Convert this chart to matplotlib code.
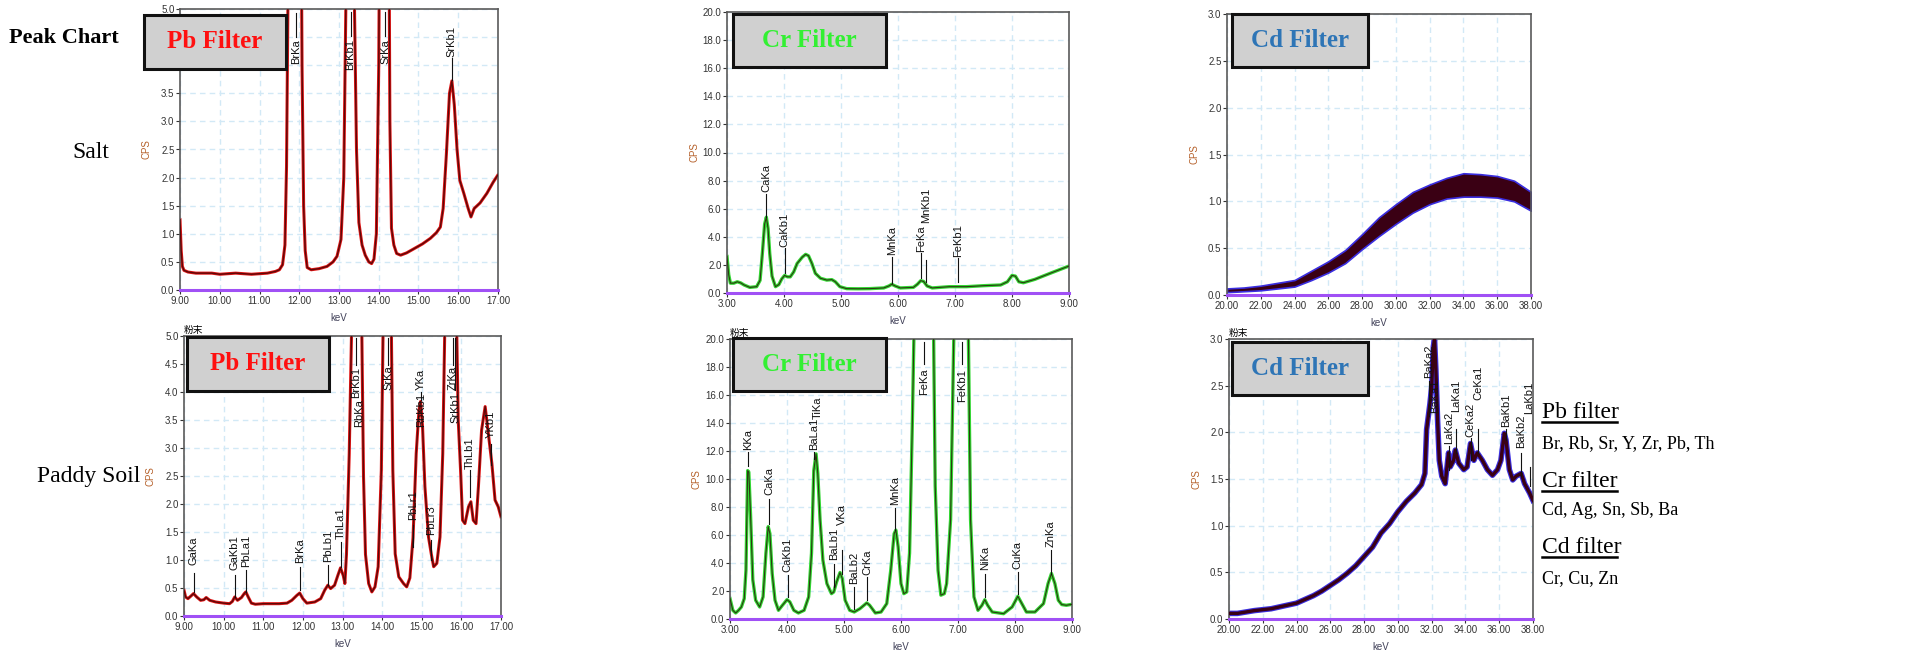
import matplotlib.pyplot as plt
from matplotlib.patches import Rectangle
from matplotlib.lines import Line2D

W, H = 1930, 651

# ---- spectra (keV, CPS) ----
# Salt, Pb filter
pb_salt_kev = [9.00, 9.03, 9.06, 9.10, 9.20, 9.40, 9.60, 9.80, 10.00, 10.20, 10.40, 10.60, 10.80,
               11.00, 11.20, 11.40, 11.50, 11.58, 11.64, 11.68, 11.72, 11.80, 11.92, 12.02, 12.07,
               12.11, 12.15, 12.20, 12.30, 12.50, 12.70, 12.85, 12.95, 13.05, 13.12, 13.18, 13.29,
               13.38, 13.44, 13.50, 13.58, 13.66, 13.75, 13.82, 13.88, 13.94, 14.00, 14.14, 14.26,
               14.28, 14.32, 14.38, 14.45, 14.55, 14.70, 14.90, 15.10, 15.30, 15.45, 15.55, 15.62,
               15.70, 15.78, 15.84, 15.90, 15.97, 16.04, 16.14, 16.25, 16.32, 16.40, 16.55, 16.72,
               16.88, 17.00]
pb_salt_cps = [1.25, 0.70, 0.42, 0.35, 0.32, 0.30, 0.30, 0.30, 0.28, 0.29, 0.30, 0.29, 0.28,
               0.29, 0.30, 0.33, 0.36, 0.45, 0.80, 2.2, 5.5, 14.0, 22.0, 10.0, 4.0,
               1.5, 0.70, 0.40, 0.36, 0.38, 0.42, 0.50, 0.60, 0.90, 2.0, 5.5, 12.0,
               5.5, 2.5, 1.2, 0.80, 0.62, 0.50, 0.47, 0.55, 1.0, 4.0, 20.0, 6.0,
               3.0, 1.1, 0.80, 0.65, 0.62, 0.66, 0.74, 0.82, 0.92, 1.02, 1.12, 1.45,
               2.4, 3.5, 3.72, 3.30, 2.50, 1.95, 1.72, 1.45, 1.30, 1.45, 1.55, 1.72,
               1.92, 2.05]

# Salt, Cr filter
cr_salt_kev = [3.00, 3.03, 3.06, 3.12, 3.18, 3.24, 3.30, 3.40, 3.52, 3.58, 3.62, 3.66, 3.69,
               3.72, 3.75, 3.79, 3.85, 3.91, 3.96, 4.01, 4.06, 4.11, 4.17, 4.23, 4.32, 4.38,
               4.43, 4.49, 4.55, 4.64, 4.75, 4.84, 4.90, 4.98, 5.10, 5.30, 5.50, 5.75, 5.84,
               5.89, 5.95, 6.04, 6.27, 6.34, 6.40, 6.45, 6.51, 6.60, 6.90, 7.20, 7.50, 7.80,
               7.92, 8.00, 8.06, 8.12, 8.20, 8.40, 8.70, 9.00]
cr_salt_cps = [2.6, 1.3, 0.70, 0.70, 0.80, 0.72, 0.57, 0.40, 0.45, 0.90, 2.8, 4.9, 5.4,
               4.6, 2.8, 1.2, 0.45, 0.60, 1.0, 1.25, 1.15, 1.15, 1.50, 2.1, 2.55, 2.75,
               2.65, 2.1, 1.40, 1.05, 0.92, 0.95, 0.80, 0.45, 0.31, 0.30, 0.31, 0.36, 0.50,
               0.62, 0.50, 0.36, 0.40, 0.62, 0.88, 0.82, 0.50, 0.36, 0.45, 0.45, 0.52, 0.57,
               0.80, 1.25, 1.20, 0.80, 0.73, 0.97, 1.45, 1.92]

# Salt, Cd filter: noisy band, lower and upper edge
cd_salt_kev = [20.0, 21.0, 22.0, 23.0, 24.0, 25.0, 26.0, 27.0, 28.0, 29.0, 30.0, 31.0, 32.0,
               33.0, 34.0, 35.0, 36.0, 37.0, 38.0]
cd_salt_low = [0.03, 0.04, 0.05, 0.07, 0.09, 0.16, 0.24, 0.34, 0.49, 0.63, 0.76, 0.88, 0.97,
               1.03, 1.05, 1.05, 1.04, 1.00, 0.90]
cd_salt_high = [0.07, 0.08, 0.10, 0.13, 0.16, 0.26, 0.36, 0.48, 0.65, 0.83, 0.97, 1.10, 1.18,
                1.25, 1.30, 1.29, 1.27, 1.22, 1.10]

# Paddy soil, Pb filter
pb_soil_kev = [9.00, 9.04, 9.10, 9.18, 9.24, 9.32, 9.42, 9.50, 9.56, 9.65, 9.80, 10.00, 10.15,
               10.22, 10.28, 10.35, 10.45, 10.52, 10.56, 10.62, 10.70, 10.80, 11.00, 11.20,
               11.40, 11.60, 11.72, 11.85, 11.92, 12.00, 12.10, 12.30, 12.45, 12.55, 12.63,
               12.70, 12.80, 12.88, 12.95, 13.02, 13.06, 13.10, 13.17, 13.24, 13.38, 13.48,
               13.53, 13.58, 13.66, 13.74, 13.82, 13.90, 13.98, 14.04, 14.15, 14.22, 14.27,
               14.33, 14.42, 14.54, 14.62, 14.70, 14.78, 14.86, 14.93, 14.97, 15.02, 15.08,
               15.17, 15.24, 15.30, 15.38, 15.46, 15.53, 15.59, 15.77, 15.88, 15.92, 15.98,
               16.03, 16.09, 16.18, 16.24, 16.30, 16.37, 16.43, 16.51, 16.60, 16.64, 16.68,
               16.77, 16.85, 16.93, 17.00]
pb_soil_cps = [0.46, 0.34, 0.31, 0.36, 0.40, 0.34, 0.28, 0.29, 0.33, 0.28, 0.25, 0.23, 0.22,
               0.26, 0.34, 0.28, 0.33, 0.40, 0.43, 0.34, 0.23, 0.21, 0.22, 0.22,
               0.22, 0.23, 0.28, 0.37, 0.41, 0.31, 0.23, 0.25, 0.31, 0.46, 0.55,
               0.49, 0.55, 0.72, 0.86, 0.72, 0.58, 1.1, 2.9, 5.5, 14.0, 5.5,
               2.5, 1.1, 0.58, 0.43, 0.52, 0.88, 2.6, 6.0, 18.0, 6.0, 2.6,
               1.11, 0.70, 0.58, 0.52, 0.68, 1.40, 2.9, 3.68, 3.83, 3.38, 2.31,
               1.41, 1.11, 0.88, 0.94, 1.41, 2.9, 5.5, 16.0, 5.2, 3.5, 2.6,
               1.71, 1.65, 1.95, 2.04, 1.71, 1.65, 2.31, 3.32, 3.74, 3.50, 3.26,
               2.72, 2.07, 1.95, 1.77]

# Paddy soil, Cr filter
cr_soil_kev = [3.00, 3.05, 3.10, 3.15, 3.20, 3.25, 3.28, 3.31, 3.33, 3.36, 3.40, 3.45, 3.52,
               3.58, 3.63, 3.67, 3.70, 3.74, 3.79, 3.85, 3.92, 4.00, 4.05, 4.12, 4.20, 4.30,
               4.38, 4.43, 4.47, 4.51, 4.54, 4.58, 4.63, 4.70, 4.78, 4.82, 4.87, 4.93, 4.97,
               5.02, 5.10, 5.18, 5.28, 5.40, 5.45, 5.55, 5.65, 5.75, 5.82, 5.88, 5.91, 5.95,
               6.00, 6.05, 6.10, 6.15, 6.20, 6.23, 6.40, 6.57, 6.60, 6.65, 6.70, 6.76, 6.80,
               6.87, 6.93, 7.06, 7.18, 7.22, 7.28, 7.35, 7.42, 7.47, 7.52, 7.60, 7.80, 7.95,
               8.05, 8.12, 8.20, 8.35, 8.50, 8.58, 8.64, 8.70, 8.76, 8.82, 8.90, 9.00]
cr_soil_cps = [1.46, 0.62, 0.43, 0.62, 0.86, 1.46, 3.48, 10.6, 10.5, 7.5, 2.8, 1.34, 0.86,
               1.58, 4.7, 6.6, 6.1, 3.25, 1.34, 0.62, 0.98, 1.38, 1.22, 0.62, 0.43, 0.62,
               1.58, 4.7, 10.6, 11.8, 10.4, 7.1, 4.2, 2.53, 1.81, 1.93, 2.65, 3.32, 2.89,
               1.34, 0.62, 0.50, 0.74, 1.15, 0.98, 0.43, 0.50, 1.10, 3.48, 6.1, 6.35, 5.15,
               2.53, 1.81, 1.93, 4.7, 14.2, 21.0, 60.0, 21.0, 9.5, 3.48, 1.7, 1.81, 2.53,
               7.1, 21.0, 40.0, 21.0, 7.1, 1.58, 0.62, 0.98, 1.38, 0.98, 0.50, 0.38, 0.86,
               1.62, 1.10, 0.50, 0.50, 1.10, 2.53, 3.25, 2.53, 1.34, 1.03, 0.98, 1.05]

# Paddy soil, Cd filter
cd_soil_kev = [20.0, 20.5, 21.0, 21.5, 22.0, 22.5, 23.0, 23.5, 24.0, 24.5, 25.0, 25.5, 26.0,
               26.5, 27.0, 27.5, 28.0, 28.5, 29.0, 29.5, 30.0, 30.5, 31.0, 31.4, 31.6, 31.7,
               31.8, 31.9, 32.0, 32.1, 32.17, 32.25, 32.35, 32.45, 32.6, 32.8, 33.0, 33.1,
               33.3, 33.4, 33.6, 33.9, 34.1, 34.3, 34.5, 34.7, 35.0, 35.3, 35.6, 35.9, 36.1,
               36.3, 36.4, 36.6, 36.8, 37.0, 37.3, 37.5, 37.8, 38.0]
cd_soil_cps = [0.06, 0.06, 0.075, 0.09, 0.10, 0.11, 0.13, 0.15, 0.17, 0.21, 0.25, 0.30, 0.36,
               0.42, 0.49, 0.57, 0.67, 0.77, 0.92, 1.02, 1.15, 1.26, 1.35, 1.44, 1.56, 2.03,
               2.17, 2.31, 2.49, 2.92, 3.0, 2.67, 2.13, 1.70, 1.53, 1.45, 1.78, 1.63,
               1.70, 1.81, 1.67, 1.60, 1.63, 1.88, 1.70, 1.78, 1.70, 1.60, 1.54, 1.60, 1.70,
               1.99, 1.92, 1.60, 1.49, 1.53, 1.56, 1.45, 1.35, 1.27]

# peak labels: (name, keV, text bottom, line from, line to)
pb_salt_peaks = [("BrKa", 11.92, 4.03, 4.50, 4.93), ("BrKb1", 13.29, 3.92, 4.52, 4.95),
                 ("SrKa", 14.16, 4.03, 4.52, 4.95), ("SrKb1", 15.84, 4.15, 3.74, 4.12)]
cr_salt_peaks = [("CaKa", 3.69, 7.2, 5.43, 7.08), ("CaKb1", 4.01, 3.29, 1.4, 3.18),
                 ("MnKa", 5.89, 2.7, 0.73, 2.58), ("FeKa", 6.40, 2.94, 1.04, 2.82),
                 ("MnKb1", 6.49, 4.95, 0.8, 2.35), ("FeKb1", 7.06, 2.58, 0.8, 2.46)]
pb_soil_peaks = [("GaKa", 9.24, 0.91, 0.43, 0.76), ("GaKb1", 10.28, 0.82, 0.34, 0.73),
                 ("PbLa1", 10.56, 0.88, 0.43, 0.82), ("BrKa", 11.92, 0.94, 0.46, 0.88),
                 ("PbLb1", 12.63, 0.97, 0.55, 0.91), ("ThLa1", 12.96, 1.38, 0.88, 1.32),
                 ("BrKb1", 13.35, 3.89, 4.48, 4.96), ("RbKa", 13.41, 3.38, None, None),
                 ("SrKa", 14.16, 4.03, 4.48, 4.96), ("PbLr1", 14.79, 1.71, 1.23, 1.62),
                 ("RbKb1", 14.98, 3.38, None, None), ("YKa", 14.97, 4.03, 3.86, 4.0),
                 ("PbLr3", 15.23, 1.44, 1.0, 1.35), ("ZrKa", 15.78, 4.03, 4.48, 4.96),
                 ("SrKb1", 15.84, 3.44, 4.03, 4.96), ("ThLb1", 16.22, 2.63, 2.13, 2.60),
                 ("YKb1", 16.74, 3.17, 2.69, 3.08)]
cr_soil_peaks = [("KKa", 3.32, 12.1, 10.9, 11.96), ("CaKa", 3.69, 8.85, 6.8, 8.6),
                 ("CaKb1", 4.01, 3.37, 1.58, 3.13), ("BaLa1", 4.48, 12.1, 11.4, 11.9),
                 ("TiKa", 4.54, 14.3, None, None), ("BaLb1", 4.82, 4.2, 2.29, 3.96),
                 ("VKa", 4.96, 6.7, 3.2, 4.9), ("BaLb2", 5.17, 2.53, 0.74, 2.29),
                 ("CrKa", 5.41, 3.13, 1.34, 3.0), ("MnKa", 5.90, 8.14, 6.35, 7.9),
                 ("FeKa", 6.41, 16.0, 18.2, 19.8), ("FeKb1", 7.07, 15.5, 18.2, 19.8),
                 ("NiKa", 7.48, 3.48, 1.58, 3.25), ("CuKa", 8.05, 3.6, 1.81, 3.37),
                 ("ZnKa", 8.63, 5.15, 3.25, 4.92)]
cd_soil_peaks = [("BaKa2", 31.85, 2.58, 2.17, 2.55), ("BaKa1", 32.18, 2.21, None, None),
                 ("LaKa2", 33.03, 1.88, 1.60, 1.85), ("LaKa1", 33.43, 2.22, 1.78, 2.04),
                 ("CeKa2", 34.30, 1.95, 1.70, 1.94), ("CeKa1", 34.75, 2.35, 1.78, 2.04),
                 ("BaKb1", 36.38, 2.06, 1.92, 2.04), ("BaKb2", 37.27, 1.83, 1.53, 1.78),
                 ("LaKb1", 37.80, 2.20, 1.42, 1.63)]

filter_names = ["Pb Filter", "Cr Filter", "Cd Filter"]
filter_colors = ["#ff1010", "#33f033", "#2e75b6"]
legend_heads = ["Pb filter", "Cr filter", "Cd filter"]
legend_items = ["Br, Rb, Sr, Y, Zr, Pb, Th", "Cd, Ag, Sn, Sb, Ba", "Cr, Cu, Zn"]

SERIF = "Liberation Serif"
SANS = "Liberation Sans"


def fx(x):
    return x / W


def fy(y):
    return 1 - y / H


fig = plt.figure(figsize=(19.3, 6.51), dpi=100)


def make_axes(left, top, right, bottom):
    return fig.add_axes([fx(left), fy(bottom), fx(right - left), (bottom - top) / H])


def style(ax, xticks, yticks, w, h, powder):
    ax.set_xlim(xticks[0], xticks[-1])
    ax.set_ylim(yticks[0], yticks[-1])
    ax.set_xticks(xticks)
    ax.set_yticks(yticks)
    ax.set_xticklabels([f"{t:.2f}" for t in xticks], family=SANS)
    ax.set_yticklabels([f"{t:.1f}" for t in yticks], family=SANS)
    ax.grid(True, color="#d2e9f6", linestyle=(0, (4, 3)), linewidth=1)
    ax.set_axisbelow(True)
    ax.tick_params(labelsize=7, length=3, width=0.8, pad=1, colors="#333333")
    for s in ax.spines.values():
        s.set_color("#5a5a5a")
        s.set_linewidth(1.2)
    ax.set_xlabel("keV", fontsize=7, color="#404058", family=SANS)
    ax.xaxis.set_label_coords(0.5, -23 / h)
    ax.set_ylabel("CPS", fontsize=7, color="#b5602a", family=SANS)
    ax.yaxis.set_label_coords(-28 / w, 0.5)
    ax.axhline(0, color="#a050f5", lw=2.2, zorder=4, clip_on=False)
    if powder:
        ax.text(0.0, 1.005, "粉末", transform=ax.transAxes, fontsize=7,
                family=["Noto Sans CJK JP", "DejaVu Sans"], va="bottom", ha="left")


def spectrum(ax, kev, cps, outer, inner, w_out, w_in):
    ax.plot(kev, cps, color=outer, lw=w_out, zorder=2, solid_joinstyle="round")
    ax.plot(kev, cps, color=inner, lw=w_in, zorder=3, solid_joinstyle="round")


def peaks(ax, items):
    for name, e, tb, l0, l1 in items:
        if l0 is not None:
            ax.plot([e, e], [l0, l1], color="#111111", lw=0.8, zorder=5)
        ax.text(e, tb, name, rotation=90, ha="center", va="bottom", fontsize=8,
                family=SANS, color="#111111", zorder=5)


def filter_box(x0, y0, x1, y1, name, color):
    fig.add_artist(Rectangle((fx(x0), fy(y1)), fx(x1 - x0), (y1 - y0) / H,
                             transform=fig.transFigure, facecolor="#d0d0d0",
                             edgecolor="#111111", lw=2.2, zorder=6))
    fig.text(fx((x0 + x1) / 2), fy((y0 + y1) / 2), name, ha="center", va="center",
             fontsize=18, fontweight="bold", family=SERIF, color=color, zorder=7)


pb_x = [9, 10, 11, 12, 13, 14, 15, 16, 17]
pb_y = [0, 0.5, 1, 1.5, 2, 2.5, 3, 3.5, 4, 4.5, 5]
cr_x = [3, 4, 5, 6, 7, 8, 9]
cr_y = [0, 2, 4, 6, 8, 10, 12, 14, 16, 18, 20]
cd_x = [20, 22, 24, 26, 28, 30, 32, 34, 36, 38]
cd_y = [0, 0.5, 1, 1.5, 2, 2.5, 3]

red = ("#e01414", "#5c0808", 2.2, 1.0)
green = ("#33d633", "#2b3a10", 2.4, 0.8)
blue = ("#3a2ee0", "#3a0014", 4.0, 2.4)

# top row: salt
ax = make_axes(180, 9, 498, 290)
style(ax, pb_x, pb_y, 318, 281, False)
spectrum(ax, pb_salt_kev, pb_salt_cps, *red)
peaks(ax, pb_salt_peaks)

ax = make_axes(727, 12, 1069, 293)
style(ax, cr_x, cr_y, 342, 281, False)
spectrum(ax, cr_salt_kev, cr_salt_cps, *green)
peaks(ax, cr_salt_peaks)

ax = make_axes(1227, 14, 1531, 295)
style(ax, cd_x, cd_y, 304, 281, False)
ax.fill_between(cd_salt_kev, cd_salt_low, cd_salt_high, facecolor="#3a0014",
                edgecolor="#3a2ee0", lw=1.2, zorder=2)

# bottom row: paddy soil
ax = make_axes(184, 336, 501, 616)
style(ax, pb_x, pb_y, 317, 280, True)
spectrum(ax, pb_soil_kev, pb_soil_cps, *red)
peaks(ax, pb_soil_peaks)

ax = make_axes(730, 339, 1072, 619)
style(ax, cr_x, cr_y, 342, 280, True)
spectrum(ax, cr_soil_kev, cr_soil_cps, *green)
peaks(ax, cr_soil_peaks)

ax = make_axes(1229, 339, 1533, 619)
style(ax, cd_x, cd_y, 304, 280, True)
spectrum(ax, cd_soil_kev, cd_soil_cps, *blue)
peaks(ax, cd_soil_peaks)

# filter boxes
filter_box(144, 15, 286, 69, filter_names[0], filter_colors[0])
filter_box(733, 14, 886, 67, filter_names[1], filter_colors[1])
filter_box(1232, 14, 1368, 67, filter_names[2], filter_colors[2])
filter_box(187, 337, 329, 391, filter_names[0], filter_colors[0])
filter_box(733, 338, 886, 391, filter_names[1], filter_colors[1])
filter_box(1232, 342, 1368, 395, filter_names[2], filter_colors[2])

# row titles
fig.text(fx(9), fy(43), "Peak Chart", fontsize=16, fontweight="bold", family=SERIF,
         va="baseline", ha="left")
fig.text(fx(72), fy(158), "Salt", fontsize=17, family=SERIF, va="baseline", ha="left")
fig.text(fx(37), fy(482), "Paddy Soil", fontsize=17, family=SERIF, va="baseline", ha="left")

# element legend on the right
head_y = [418, 487, 553]
item_y = [448, 515, 583]
for head, item, hy, iy in zip(legend_heads, legend_items, head_y, item_y):
    fig.text(fx(1542), fy(hy), head, fontsize=17, family=SERIF, va="baseline", ha="left")
    fig.add_artist(Line2D([fx(1542), fx(1617)], [fy(hy + 4), fy(hy + 4)],
                          transform=fig.transFigure, color="black", lw=1.8))
    fig.text(fx(1542), fy(iy), item, fontsize=13, family=SERIF, va="baseline", ha="left")

fig.savefig("out.png", dpi=100)
